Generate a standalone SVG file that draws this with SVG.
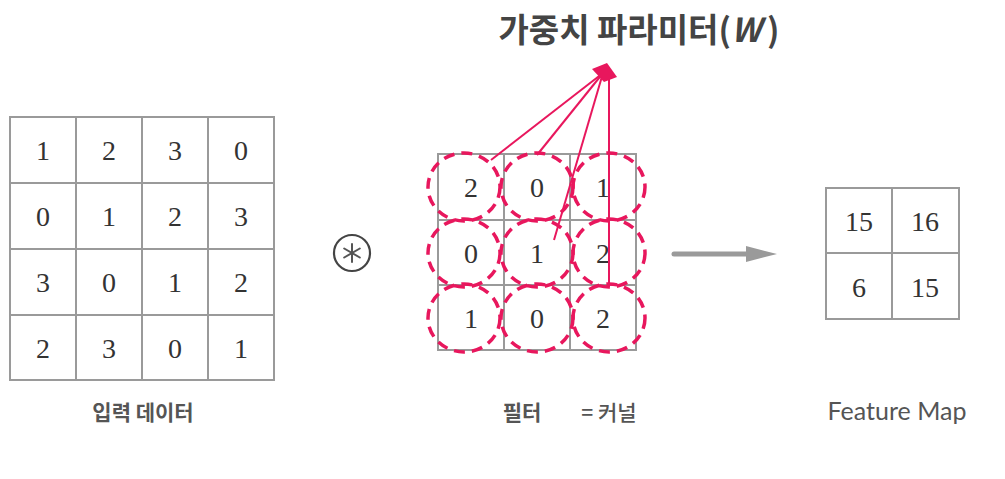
<svg xmlns="http://www.w3.org/2000/svg" width="1005" height="479" viewBox="0 0 1005 479">
<style>
.grid{fill:none;stroke:#9a9a9a;stroke-width:2}
.num{font-family:"Liberation Serif","DejaVu Serif",serif;font-size:28px;fill:#333;text-anchor:middle}
.lbl{font-family:"Noto Sans CJK KR","Noto Sans",sans-serif;font-size:21px;fill:#555;text-anchor:middle}
.dash{fill:none;stroke:#e8175d;stroke-width:3.5;stroke-dasharray:11 7}
.pink{stroke:#e8175d;stroke-width:2;fill:none}
</style>
<rect width="1005" height="479" fill="#fff"/>
<g id="title">
<text x="639" y="42" text-anchor="middle" font-family="'Noto Sans CJK KR','Noto Sans',sans-serif" font-size="33" font-weight="bold" fill="#444">가중치 파라미터(<tspan font-style="italic" dx="0">W</tspan><tspan dx="6">)</tspan></text>
</g>
<g id="input">
<rect class="grid" x="10" y="117" width="264" height="263"/>
<path class="grid" d="M76,117V380M142,117V380M208,117V380M10,183H274M10,249H274M10,315H274"/>
<g class="num">
<text x="43" y="160">1</text><text x="109" y="160">2</text><text x="175" y="160">3</text><text x="241" y="160">0</text>
<text x="43" y="226">0</text><text x="109" y="226">1</text><text x="175" y="226">2</text><text x="241" y="226">3</text>
<text x="43" y="292">3</text><text x="109" y="292">0</text><text x="175" y="292">1</text><text x="241" y="292">2</text>
<text x="43" y="358">2</text><text x="109" y="358">3</text><text x="175" y="358">0</text><text x="241" y="358">1</text>
</g>
<text class="lbl" x="143" y="420" font-weight="bold" font-size="22">입력 데이터</text>
</g>
<g id="conv-op">
<circle cx="352" cy="253" r="18" fill="none" stroke="#444" stroke-width="2.2"/>
<g stroke="#555" stroke-width="2" stroke-linecap="round">
<line x1="352" y1="244" x2="352" y2="262"/>
<line x1="344.2" y1="248.5" x2="359.8" y2="257.5"/>
<line x1="344.2" y1="257.5" x2="359.8" y2="248.5"/>
</g>
</g>
<g id="filter">
<rect class="grid" x="438" y="154" width="198" height="196"/>
<path class="grid" d="M504,154V350M570,154V350M438,220H636M438,285H636"/>
<g class="num">
<text x="471" y="197">2</text><text x="537" y="197">0</text><text x="603" y="197">1</text>
<text x="471" y="263">0</text><text x="537" y="263">1</text><text x="603" y="263">2</text>
<text x="471" y="328">1</text><text x="537" y="328">0</text><text x="603" y="328">2</text>
</g>
<g class="dash">
<ellipse cx="464" cy="187" rx="36" ry="34"/><ellipse cx="537" cy="187" rx="36" ry="34"/><ellipse cx="609" cy="187" rx="36" ry="34"/>
<ellipse cx="464" cy="253" rx="36" ry="34"/><ellipse cx="537" cy="253" rx="36" ry="34"/><ellipse cx="609" cy="253" rx="36" ry="34"/>
<ellipse cx="464" cy="318" rx="36" ry="34"/><ellipse cx="537" cy="318" rx="36" ry="34"/><ellipse cx="609" cy="318" rx="36" ry="34"/>
</g>
<text class="lbl" x="522" y="420" font-weight="bold">필터</text>
<text class="lbl" x="609" y="420" font-weight="500">= 커널</text>
</g>
<g id="feature-map">
<rect class="grid" x="826" y="188" width="133" height="131"/>
<path class="grid" d="M892,188V319M826,253H959"/>
<g class="num">
<text x="859" y="231">15</text><text x="925" y="231">16</text>
<text x="859" y="297">6</text><text x="925" y="297">15</text>
</g>
<text x="897" y="420" text-anchor="middle" font-family="Lato,'Noto Sans',sans-serif" font-size="25" fill="#555">Feature Map</text>
</g>
<g id="connectors">
<g class="pink">
<line x1="603" y1="73" x2="491" y2="160"/>
<line x1="603" y1="73" x2="537" y2="155"/>
<line x1="603" y1="73" x2="554" y2="240"/>
<line x1="609" y1="75" x2="609" y2="287"/>
</g>
<polygon points="592,69 607,63 617,77 604,82" fill="#e8175d"/>
<line x1="674" y1="254" x2="750" y2="254" stroke="#9a9a9a" stroke-width="5" stroke-linecap="round"/>
<polygon points="746,246 777,254 746,262" fill="#9a9a9a"/>
</g>
</svg>
